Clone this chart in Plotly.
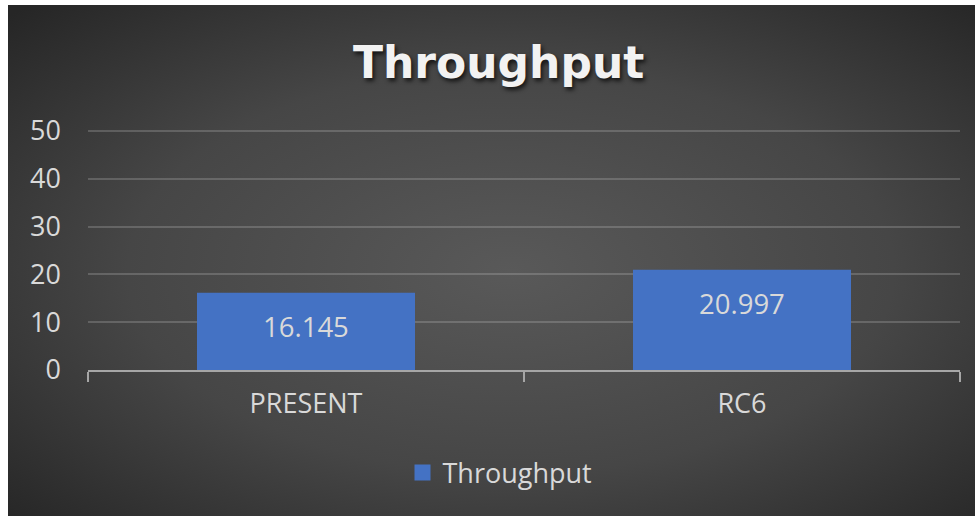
import base64
import plotly.graph_objects as go

categories = ["PRESENT", "RC6"]
values = [16.145, 20.997]
series_name = "Throughput"
title_text = "Throughput"
y_ticks = [0, 10, 20, 30, 40, 50]
y_max = 50

W, H = 977, 516
ml, mr, mb = 88, 17, 146
zero_px, top_px = H - mb, 131          # pixel rows of 0 and of y_max
mt = 124                               # a little headroom so the top gridline is drawn
pw, ph = W - ml - mr, H - mt - mb
y_top = y_max * (zero_px - mt) / (zero_px - top_px)

svg = (
    '<svg xmlns="http://www.w3.org/2000/svg" width="967" height="511" viewBox="0 0 967 511" preserveAspectRatio="none">'
    '<defs><radialGradient id="g" cx="0.52" cy="0.52" r="0.72">'
    '<stop offset="0" stop-color="#595959"/><stop offset="0.55" stop-color="#464646"/>'
    '<stop offset="1" stop-color="#262626"/></radialGradient></defs>'
    '<rect x="0" y="0" width="967" height="511" fill="url(#g)"/></svg>'
)
src = "data:image/svg+xml;base64," + base64.b64encode(svg.encode()).decode()

bar_color = "#4472C4"
fig = go.Figure()
fig.add_trace(go.Bar(
    x=categories, y=values, name=series_name,
    marker=dict(color=bar_color, line=dict(width=0)),
    width=0.5, hoverinfo="x+y", showlegend=False,
))
# legend entry with a larger square swatch
fig.add_trace(go.Scatter(
    x=[None], y=[None], mode="markers", name=series_name,
    marker=dict(symbol="square", size=18, color=bar_color), showlegend=True,
))

for c, v in zip(categories, values):
    fig.add_annotation(x=c, y=v, text=f"{v}", showarrow=False, yanchor="middle",
                       yshift=-34, font=dict(family="Open Sans", size=27.5, color="#d9d9d9"))

fig.add_annotation(xref="paper", yref="paper", x=(498 - ml) / pw, y=1 + (mt - 62) / ph,
                   text=f"<b>{title_text}</b>", showarrow=False, xanchor="center", yanchor="middle",
                   font=dict(family="DejaVu Sans", size=44, color="#f2f2f2",
                             shadow="2px 3px 4px rgba(0,0,0,0.7)"))

fig.add_layout_image(dict(
    source=src, xref="paper", yref="paper",
    x=(8 - ml) / pw, y=1 + (mt - 5) / ph, sizex=967 / pw, sizey=511 / ph,
    xanchor="left", yanchor="top", sizing="stretch", layer="below",
))

fig.update_layout(
    width=W, height=H,
    margin=dict(l=ml, r=mr, t=mt, b=mb, pad=0),
    paper_bgcolor="white", plot_bgcolor="rgba(0,0,0,0)",
    bargap=0.5,
    showlegend=True,
    legend=dict(orientation="h", x=(500 - ml) / pw, xanchor="center", y=-(473 - (H - mb)) / ph,
                yanchor="middle", font=dict(family="Open Sans", size=27, color="#d9d9d9"),
                bgcolor="rgba(0,0,0,0)", itemsizing="trace"),
    xaxis=dict(type="category", showgrid=False, showline=True, linecolor="#a6a6a6", linewidth=2,
               ticks="outside", tickson="boundaries", ticklen=10, tickwidth=2, tickcolor="#a6a6a6",
               ticklabelstandoff=9,
               tickfont=dict(family="Open Sans", size=27, color="#d9d9d9")),
    yaxis=dict(range=[0, y_top], tickvals=y_ticks, showgrid=True, gridcolor="rgba(217,217,217,0.22)",
               gridwidth=1.5, zeroline=False, showline=False, ticks="",
               ticklabelstandoff=26,
               tickfont=dict(family="Open Sans", size=27, color="#d9d9d9")),
)

fig.write_html("out.html")
